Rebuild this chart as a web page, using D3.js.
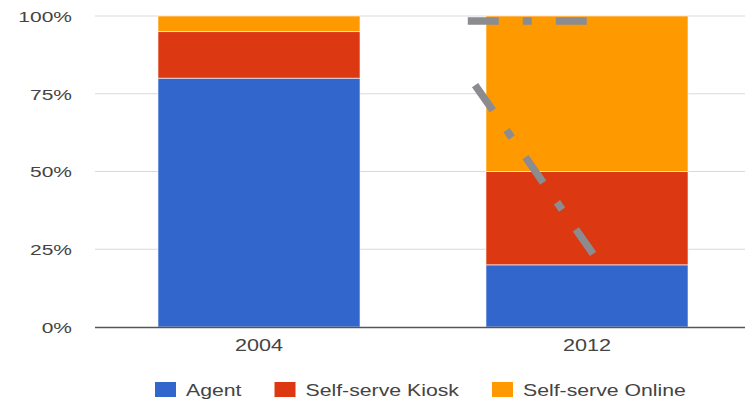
<!DOCTYPE html>
<html>
<head>
<meta charset="utf-8">
<script src="https://cdn.jsdelivr.net/npm/d3@7"></script>
<style>
  html, body { margin: 0; padding: 0; background: #fff; }
  svg { display: block; }
  text { font-family: "Liberation Sans", Arial, sans-serif; fill: #444; }
</style>
</head>
<body>
<svg id="chart" width="745" height="399"></svg>
<script>
// ---- data ----
const categories = ["2004", "2012"];
const seriesNames = ["Agent", "Self-serve Kiosk", "Self-serve Online"];
const agent = [80, 20];
const kiosk = [15, 30];
const online = [5, 50];
const yTicks = [0, 25, 50, 75, 100];
const yTickLabels = ["0%", "25%", "50%", "75%", "100%"];
// annotation dashed lines (category, offset as fraction of bar width, percent value)
const annotHorizontal = [["2012", -0.09, 98.4], ["2012", 0.505, 98.4]];
const annotDiagonal = [["2012", -0.054, 77.8], ["2012", 0.53, 23.5]];

const colors = ["#3366cc", "#dc3912", "#ff9900"];

const svg = d3.select("#chart");
const W = 745, H = 399;
const plot = { left: 95, right: 751, top: 16, bottom: 327 };

const x = d3.scaleBand().domain(categories).range([plot.left, plot.right])
  .paddingInner(0.384).paddingOuter(0.192);
const y = d3.scaleLinear().domain([0, 100]).range([plot.bottom, plot.top]);

// gridlines
svg.append("g").selectAll("line").data(yTicks.filter(t => t > 0)).join("line")
  .attr("x1", plot.left).attr("x2", W)
  .attr("y1", d => y(d)).attr("y2", d => y(d))
  .attr("stroke", "#d9d9d9").attr("stroke-width", 1);

// stacked bars
const rows = categories.map((c, i) => ({ cat: c, "Agent": agent[i], "Self-serve Kiosk": kiosk[i], "Self-serve Online": online[i] }));
const stack = d3.stack().keys(seriesNames)(rows);
svg.append("g").selectAll("g").data(stack).join("g")
  .attr("fill", (d, i) => colors[i])
  .selectAll("rect").data(d => d).join("rect")
  .attr("x", d => x(d.data.cat))
  .attr("width", x.bandwidth())
  .attr("y", d => y(d[1]))
  .attr("height", d => y(d[0]) - y(d[1]))
  .attr("stroke", "#fff").attr("stroke-opacity", 0.6).attr("stroke-width", 1);

// baseline
svg.append("line").attr("x1", plot.left).attr("x2", W)
  .attr("y1", y(0) + 0.5).attr("y2", y(0) + 0.5)
  .attr("stroke", "#555").attr("stroke-width", 1.5);

// y axis labels
const yAxis = d3.axisLeft(y).tickValues(yTicks).tickFormat((d, i) => yTickLabels[i]).tickSize(0).tickPadding(0);
const yg = svg.append("g").attr("transform", `translate(72,0)`).call(yAxis);
yg.select(".domain").remove();
yg.selectAll(".tick text")
  .attr("font-family", "Liberation Sans, Arial, sans-serif")
  .attr("font-size", 15).attr("fill", "#444")
  .attr("x", 0).attr("dy", "0.35em")
  .attr("transform", "scale(1.4,1)")
  .each(function() {
    // keep right edge anchored at x=72 when scaled
    d3.select(this).attr("text-anchor", "end").attr("transform", null);
  });
yg.selectAll(".tick").each(function() {
  const t = d3.select(this);
  const tr = t.attr("transform");
  t.select("text").attr("transform", "scale(1.4,1)");
});

// x axis labels
const xAxis = d3.axisBottom(x).tickSize(0).tickPadding(0);
const xg = svg.append("g").attr("transform", `translate(0,351)`).call(xAxis);
xg.select(".domain").remove();
xg.selectAll(".tick text")
  .attr("font-family", "Liberation Sans, Arial, sans-serif")
  .attr("font-size", 16).attr("fill", "#444")
  .attr("y", 0).attr("dy", 0)
  .attr("transform", "scale(1.35,1)");

// annotations (dashed grey lines)
const pt = d => [x(d[0]) + d[1] * x.bandwidth(), y(d[2])];
const line = d3.line();
[annotHorizontal, annotDiagonal].forEach(a => {
  svg.append("path").attr("d", line(a.map(pt)))
    .attr("fill", "none").attr("stroke", "#8c8c90").attr("stroke-width", 7.5)
    .attr("stroke-dasharray", "31,24,9,24").attr("stroke-linecap", "butt");
});

// legend
const lg = svg.append("g").attr("transform", "translate(155,382)");
let cx = 0;
seriesNames.forEach((name, i) => {
  const g = lg.append("g").attr("transform", `translate(${cx},0)`);
  g.append("rect").attr("width", 21).attr("height", 15).attr("fill", colors[i]);
  const t = g.append("text").attr("transform", "translate(31,14) scale(1.25,1)")
    .attr("font-size", 17).attr("fill", "#444").text(name);
  const w = t.node().getComputedTextLength() * 1.25;
  cx += 31 + w + 33;
});
</script>
</body>
</html>
